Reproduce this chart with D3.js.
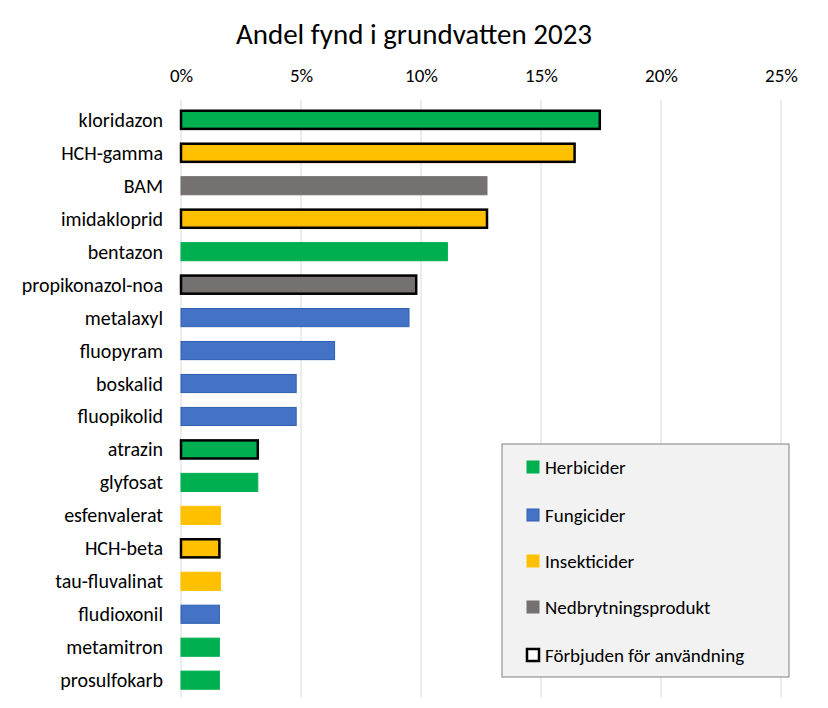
<!DOCTYPE html><html><head><meta charset="utf-8">
<script src="https://cdn.jsdelivr.net/npm/d3@7"></script>
<style>body{margin:0;background:#fff}text{font-family:Carlito,Lato,sans-serif;fill:#000}</style></head><body>
<svg id="c" width="828" height="708"></svg>
<script>
const categories=["kloridazon","HCH-gamma","BAM","imidakloprid","bentazon","propikonazol-noa","metalaxyl","fluopyram","boskalid","fluopikolid","atrazin","glyfosat","esfenvalerat","HCH-beta","tau-fluvalinat","fludioxonil","metamitron","prosulfokarb"];
const values=[17.45,16.4,12.75,12.75,11.1,9.8,9.5,6.4,4.8,4.8,3.2,3.2,1.65,1.6,1.65,1.6,1.6,1.6];
const groups=["H","I","N","I","H","N","F","F","F","F","H","H","I","I","I","F","H","H"];
const banned=[1,1,0,1,0,1,0,0,0,0,1,0,0,1,0,0,0,0];
const ticks=[0,5,10,15,20,25];
const legendLabels=["Herbicider","Fungicider","Insekticider","Nedbrytningsprodukt","Förbjuden för användning"];
const fill={H:"#00b050",F:"#4472c4",I:"#ffc000",N:"#767171"};
const stroke={H:"#00b050",F:"#2f5fb3",I:"#ffc000",N:"#767171"};
const svg=d3.select("#c");
const x=d3.scaleLinear().domain([0,25]).range([181,781]);
const y=d3.scaleBand().domain(categories).range([103.5,696.5]).paddingInner(0.45).paddingOuter(0.22);
svg.append("text").attr("x",414).attr("y",44).attr("text-anchor","middle").attr("font-size",29).text("Andel fynd i grundvatten 2023");
const ax=svg.append("g").attr("transform","translate(0,100)").call(d3.axisTop(x).tickValues(ticks).tickFormat(d=>d+"%").tickSize(0).tickPadding(18));
ax.select(".domain").remove();ax.selectAll("text").attr("font-size",19).style("font-family","Carlito,Lato,sans-serif");
svg.selectAll(".g").data(ticks).join("line").attr("x1",d=>x(d)).attr("x2",d=>x(d)).attr("y1",100).attr("y2",697).attr("stroke","#d9d9d9");
svg.selectAll(".b").data(categories).join("rect").attr("x",x(0)).attr("y",d=>y(d)).attr("height",y.bandwidth())
 .attr("width",(d,i)=>x(values[i])-x(0)).attr("fill",(d,i)=>fill[groups[i]])
 .attr("stroke",(d,i)=>banned[i]?"#000":stroke[groups[i]]).attr("stroke-width",(d,i)=>banned[i]?2.5:1);
svg.selectAll(".l").data(categories).join("text").attr("x",163).attr("y",d=>y(d)+y.bandwidth()/2).attr("dy","0.35em").attr("text-anchor","end").attr("font-size",20).text(d=>d);
svg.append("rect").attr("x",502).attr("y",444).attr("width",287).attr("height",233).attr("fill","#f2f2f2").attr("stroke","#808080");
const lk=["H","F","I","N","B"],ly=[467,515,561,607,655];
lk.forEach((k,i)=>{
 svg.append("rect").attr("x",527).attr("y",ly[i]-6).attr("width",12).attr("height",12)
  .attr("fill",k==="B"?"#fff":fill[k]).attr("stroke",k==="B"?"#000":stroke[k]).attr("stroke-width",k==="B"?2.5:1);
 svg.append("text").attr("x",545).attr("y",ly[i]).attr("dy","0.35em").attr("font-size",19).text(legendLabels[i]);
});
</script></body></html>
